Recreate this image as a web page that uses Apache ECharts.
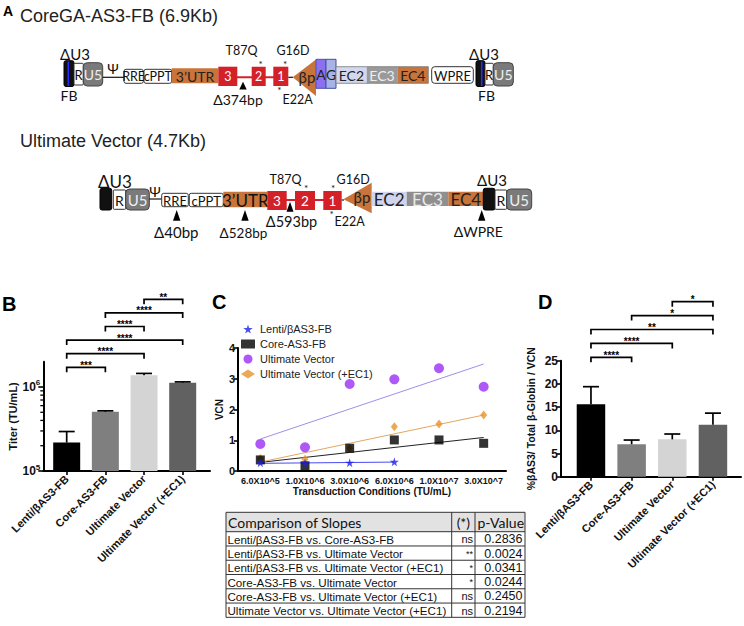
<!DOCTYPE html>
<html><head><meta charset="utf-8">
<script src="https://cdn.jsdelivr.net/npm/echarts@6/dist/echarts.min.js"></script>
<style>html,body{margin:0;padding:0;background:#fff}#c{width:744px;height:626px}</style>
</head><body><div id="c"></div>
<script>
// ================= DATA =================
// Panel B: titer
const barCategories = ['Lenti/βAS3-FB', 'Core-AS3-FB', 'Ultimate Vector', 'Ultimate Vector (+EC1)'];
const titerMeans = [218000, 507000, 1380000, 1125000];
const titerErrors = [77000, 13000, 70000, 25000];
const titerBrackets = [[0, 1, '***'], [0, 2, '****'], [0, 3, '****'], [1, 2, '****'], [1, 3, '****'], [2, 3, '**']];
const titerMinorTicks = [200000, 300000, 400000, 500000, 600000, 700000, 800000, 900000];
const titerMajorTicks = [100000, 1000000];

// Panel C: VCN vs transduction conditions
const vcnConditions = ['6.0X10^5', '1.0X10^6', '3.0X10^6', '6.0X10^6', '1.0X10^7', '3.0X10^7'];
const vcnSeriesNames = ['Lenti/βAS3-FB', 'Core-AS3-FB', 'Ultimate Vector', 'Ultimate Vector (+EC1)'];
const vcnLenti = [0.27, 0.26, 0.27, 0.30];
const vcnCore = [0.36, 0.17, 0.74, 1.01, 1.01, 0.90];
const vcnUltimate = [0.88, 0.77, 2.83, 2.98, 3.34, 2.74];
const vcnUltimateEC1 = [0.41, 0.38, 0.74, 1.44, 1.53, 1.82];
const fitLenti = [[0, 0.25], [3, 0.29]];
const fitCore = [[0, 0.28], [5, 1.09]];
const fitUltimate = [[0, 1.04], [5, 3.48]];
const fitUltimateEC1 = [[0, 0.29], [5, 1.82]];

// Table: comparison of slopes
const slopeComparisons = [
  'Lenti/βAS3-FB vs. Core-AS3-FB',
  'Lenti/βAS3-FB vs. Ultimate Vector',
  'Lenti/βAS3-FB vs. Ultimate Vector (+EC1)',
  'Core-AS3-FB vs. Ultimate Vector',
  'Core-AS3-FB vs. Ultimate Vector (+EC1)',
  'Ultimate Vector vs. Ultimate Vector (+EC1)'
];
const slopeSignificance = ['ns', '**', '*', '*', 'ns', 'ns'];
const slopePValues = ['0.2836', '0.0024', '0.0341', '0.0244', '0.2450', '0.2194'];
const tableHeaders = ['Comparison of Slopes', '(*)', 'p-Value'];

// Panel D: %βAS3 / total β-globin / VCN
const globinMeans = [15.6, 7.0, 8.05, 11.2];
const globinErrors = [3.8, 0.9, 1.15, 2.5];
const globinBrackets = [[0, 1, '****'], [0, 2, '****'], [0, 3, '**'], [1, 3, '*'], [2, 3, '*']];

// ================= STYLE =================
const FONT = '"Liberation Sans", Arial, sans-serif';
const DFONT = 'Lato, "Open Sans", sans-serif';
const barColors = ['#000000', '#7f7f7f', '#d4d4d4', '#616161'];

// ================= GRAPHICS (diagram, table, panel letters) =================
const G = [];
function R(x1, y1, x2, y2, fill, stroke, r, lw) {
  G.push({ type: 'rect', silent: true, shape: { x: x1, y: y1, width: x2 - x1, height: y2 - y1, r: r || 0 },
    style: { fill: fill || 'none', stroke: stroke || 'none', lineWidth: lw || 1 } });
}
function L(x1, y1, x2, y2, stroke, lw) {
  G.push({ type: 'line', silent: true, shape: { x1, y1, x2, y2 }, style: { stroke, lineWidth: lw || 1 } });
}
function P(points, fill) {
  G.push({ type: 'polygon', silent: true, shape: { points }, style: { fill } });
}
function T(x, y, text, size, color, opt) {
  opt = opt || {};
  const st = { text, fill: color || '#222', fontSize: size,
    fontFamily: opt.family || DFONT, fontWeight: opt.weight || 'normal',
    align: opt.align || 'center', verticalAlign: opt.va || 'middle' };
  if (opt.lh) st.lineHeight = opt.lh;
  G.push({ type: 'text', silent: true, x, y, style: st });
}
// asterisk: glyph sits high in the em box, so the anchor is shifted down
function STAR(x, yc) { T(x, yc + 2.2, '*', 10, '#111'); }
function BX(x1, y1, x2, y2, fill, stroke, r, text, size, color) {
  R(x1, y1, x2, y2, fill, stroke, r, 1);
  if (text) T((x1 + x2) / 2, (y1 + y2) / 2 + 0.5, text, size, color);
}
const ORANGE = '#c8743a', RED = '#d42027';

// Panel A titles
T(3, 11, 'A', 14, '#000', { family: FONT, weight: 'bold', align: 'left' });
T(20, 16, 'CoreGA-AS3-FB (6.9Kb)', 18, '#222', { family: FONT, align: 'left' });
T(20, 141, 'Ultimate Vector (4.7Kb)', 18, '#222', { family: FONT, align: 'left' });

// ---- Top vector ----
T(75, 53.5, 'ΔU3', 15, '#111');
R(64, 60.7, 74, 86.5, '#111', '#000', 2);
L(68.3, 61.5, 68.3, 86, '#2a2aff', 1.6);
BX(74, 63.3, 83.3, 85, '#fff', '#333', 1, 'R', 13, '#111');
BX(83.3, 62.7, 102.7, 86, '#7a7a7a', '#444', 4, 'U5', 14, '#eee');
L(102.7, 77.3, 124, 77.3, '#111', 1.2);
T(113, 68, 'Ψ', 14, '#111');
BX(124, 69.3, 143.3, 83.3, '#fff', '#333', 2, 'RRE', 12.5, '#111');
BX(144, 69.3, 171.7, 83.3, '#fff', '#333', 2, 'cPPT', 12.5, '#111');
BX(171.7, 68.3, 218.3, 83.3, ORANGE, null, 0, '3’UTR', 14, '#222');
L(237, 77.3, 274, 77.3, RED, 2);
BX(218.3, 66.7, 237.3, 86, RED, null, 0, '3', 12.5, '#fff');
BX(251.7, 66.7, 265.7, 86, RED, null, 0, '2', 12.5, '#fff');
BX(273.3, 66.7, 288.3, 86, RED, null, 0, '1', 12.5, '#fff');
L(288.3, 77.3, 293, 77.3, '#111', 1.2);
P([[243, 81.7], [239.3, 89.5], [246.7, 89.5]], '#000');
T(238, 99, 'Δ374bp', 14, '#111');
T(241.5, 50.5, 'T87Q', 12.5, '#111');
STAR(260.5, 62);
T(293, 50.5, 'G16D', 12.5, '#111');
STAR(285, 62);
STAR(279.3, 88);
T(282.5, 99.5, 'E22A', 12.5, '#111', { align: 'left' });
P([[292.7, 77.3], [316, 59.5], [316, 96]], ORANGE);
T(307, 77, 'βp', 15, '#222');
BX(316, 59.3, 326, 88.3, '#8d70f0', '#5050b0', 0, 'A', 14, '#222');
BX(326, 59.3, 336, 88.3, '#a9b2e6', '#4050a0', 0, 'G', 14, '#222');
BX(336, 66.7, 366.7, 83.3, '#d3d8f1', null, 0, 'EC2', 14, '#222');
BX(366.7, 66.7, 397.3, 83.3, '#9a9a9a', null, 0, 'EC3', 14, '#eee');
BX(397.3, 66.7, 428.3, 83.3, ORANGE, null, 0, 'EC4', 14, '#222');
R(336, 66.7, 428.3, 83.3, null, '#777', 0, 0.8);
BX(431.7, 66.7, 473.3, 83.3, '#fff', '#333', 3, 'WPRE', 13, '#111');
R(476, 60.7, 485, 86.5, '#111', '#000', 2);
L(481.7, 61.5, 481.7, 86, '#2a2aff', 1.6);
BX(485, 63.3, 493.3, 85, '#fff', '#333', 1, 'R', 13, '#111');
BX(493.3, 62.7, 513.3, 86, '#7a7a7a', '#444', 4, 'U5', 14, '#eee');
T(484, 53.5, 'ΔU3', 15, '#111');
T(69, 95, 'FB', 14, '#111');
T(486.5, 95, 'FB', 14, '#111');

// ---- Bottom vector ----
T(115, 181, 'ΔU3', 17, '#111');
R(100, 188.3, 111.7, 210, '#111', '#000', 2);
BX(113.3, 190, 125.7, 209.3, '#fff', '#333', 1, 'R', 14, '#111');
BX(125.7, 189, 149.3, 210, '#7a7a7a', '#444', 4, 'U5', 15, '#eee');
L(149.3, 199, 161.7, 199, '#111', 1.2);
T(155, 191, 'Ψ', 14, '#111');
BX(161.7, 193.3, 188.3, 206.7, '#fff', '#333', 2, 'RRE', 13, '#111');
BX(189.3, 193.3, 223.3, 206.7, '#fff', '#333', 2, 'cPPT', 13, '#111');
BX(223.3, 191.7, 267.3, 207.3, ORANGE, null, 0, '3’UTR', 17, '#111');
L(286, 200, 324, 200, RED, 2);
BX(267.3, 191, 286.7, 210, RED, null, 0, '3', 13.5, '#fff');
BX(295, 191, 315, 210, RED, null, 0, '2', 13.5, '#fff');
BX(323.3, 191, 341.7, 210, RED, null, 0, '1', 13.5, '#fff');
L(341.7, 200, 344, 200, '#111', 1.2);
P([[290, 201.7], [286.5, 211.7], [293.5, 211.7]], '#000');
T(291.5, 221.5, 'Δ593bp', 14.5, '#111');
T(285.5, 179, 'T87Q', 12.5, '#111');
STAR(306, 185.5);
STAR(333, 185.5);
T(336.5, 179, 'G16D', 12.5, '#111', { align: 'left' });
STAR(331.7, 212);
T(334.5, 221.5, 'E22A', 12.5, '#111', { align: 'left' });
P([[343.3, 199.3], [371.7, 182.7], [371.7, 213.3]], ORANGE);
T(362, 197, 'βp', 15, '#222');
BX(371.7, 191.7, 406.7, 206, '#cfd5ef', null, 0, 'EC2', 17, '#222');
BX(406.7, 191.7, 448.3, 206, '#8f8f8f', null, 0, 'EC3', 17, '#e8e8e8');
BX(448.3, 191.7, 483.3, 206, ORANGE, null, 0, 'EC4', 17, '#222');
R(483.3, 188.3, 495, 210, '#111', '#000', 2);
BX(495, 190, 506.7, 209.3, '#fff', '#333', 1, 'R', 14, '#111');
BX(506.7, 189, 531.7, 210, '#7a7a7a', '#444', 4, 'U5', 15, '#eee');
T(492, 180, 'ΔU3', 15, '#111');
P([[176.7, 210], [173, 220.7], [180.4, 220.7]], '#000');
P([[245, 210], [241.3, 220.7], [248.7, 220.7]], '#000');
P([[481.7, 210], [478, 220.7], [485.4, 220.7]], '#000');
T(176.3, 231.7, 'Δ40bp', 15, '#111');
T(243.5, 233, 'Δ528bp', 13.5, '#111');
T(478.3, 231.7, 'ΔWPRE', 14, '#111');

// Panel letters
T(2, 304, 'B', 20, '#000', { family: FONT, weight: 'bold', align: 'left' });
T(212, 302, 'C', 20, '#000', { family: FONT, weight: 'bold', align: 'left' });
T(538, 302, 'D', 20, '#000', { family: FONT, weight: 'bold', align: 'left' });

// ---- Table ----
(function () {
  const x0 = 226, x1 = 451.7, x2 = 475, x3 = 525, y0 = 512.3, yH = 531.7, rowH = 14.27;
  const yEnd = yH + rowH * slopeComparisons.length;
  R(x0, y0, x3, yH, '#e2e2e2');
  const hm = (y0 + yH) / 2;
  T(x0 + 2, hm, tableHeaders[0], 14, '#111', { align: 'left' });
  T((x1 + x2) / 2, hm, tableHeaders[1], 14, '#111');
  T(x2 + 2.5, hm, tableHeaders[2], 14, '#111', { align: 'left' });
  slopeComparisons.forEach((c, i) => {
    const ym = yH + rowH * (i + 0.5) + 0.5;
    T(x0 + 1.5, ym, c, 11.6, '#111', { family: FONT, align: 'left' });
    T(x2 - 2, ym, slopeSignificance[i], slopeSignificance[i] === 'ns' ? 11 : 9, '#111', { family: FONT, align: 'right' });
    T(x3 - 2.5, ym, slopePValues[i], 12.5, '#111', { family: FONT, align: 'right' });
  });
  for (let i = 0; i <= slopeComparisons.length; i++) {
    const y = yH + rowH * i;
    L(x0, y, x3, y, '#333', 1);
  }
  L(x0, y0, x3, y0, '#333', 1);
  [x0, x1, x2, x3].forEach(x => L(x, y0, x, yEnd, '#333', 1));
})();

// ================= RENDER HELPERS =================
function errorRender(capHalf) {
  return function (params, api) {
    const x = api.value(0), v = api.value(1), e = api.value(2);
    const p0 = api.coord([x, v]);
    const p1 = api.coord([x, v + e]);
    return { type: 'group', children: [
      { type: 'line', shape: { x1: p0[0], y1: p0[1], x2: p1[0], y2: p1[1] }, style: { stroke: '#000', lineWidth: 1.7 } },
      { type: 'line', shape: { x1: p1[0] - capHalf, y1: p1[1], x2: p1[0] + capHalf, y2: p1[1] }, style: { stroke: '#000', lineWidth: 1.7 } }
    ] };
  };
}
function bracketRender(list, refValue, firstOffset, step) {
  return function (params, api) {
    const i = api.value(0), j = api.value(1);
    const lvl = params.dataIndex;
    const a = api.coord([i, refValue]), b = api.coord([j, refValue]);
    const y = a[1] + firstOffset - lvl * step;
    const label = list[params.dataIndex][2];
    return { type: 'group', children: [
      { type: 'polyline', shape: { points: [[a[0], y + 5], [a[0], y], [b[0], y], [b[0], y + 5]] },
        style: { stroke: '#000', lineWidth: 1.7, fill: 'none' } },
      { type: 'text', x: (a[0] + b[0]) / 2, y: y - 2,
        style: { text: label, fill: '#000', fontSize: 10, fontWeight: 'bold', fontFamily: FONT,
          align: 'center', verticalAlign: 'middle', lineHeight: 4 } }
    ] };
  };
}

const axisLineStyle = { show: true, onZero: false, lineStyle: { color: '#000', width: 2 } };
const tickStyle = { show: true, length: 4, lineStyle: { color: '#000', width: 1.6 } };
const catLabel = { show: true, rotate: 45, margin: 6, fontSize: 11, fontWeight: 'bold', fontFamily: FONT, color: '#111',
  customValues: [0, 1, 2, 3], formatter: v => barCategories[Math.round(v)] };

const starPath = 'path://M50,0 L61,35 L98,35 L68,57 L79,91 L50,70 L21,91 L32,57 L2,35 L39,35 Z';

const option = {
  animation: false,
  backgroundColor: '#fff',
  textStyle: { fontFamily: FONT },
  graphic: G,
  grid: [
    { left: 43.3, top: 361.7, width: 166.7, height: 109.3 },
    { left: 238, top: 348, width: 268, height: 123 },
    { left: 561, top: 360.7, width: 180, height: 116 }
  ],
  legend: {
    show: true, orient: 'vertical', left: 236, top: 318.5, itemWidth: 14, itemHeight: 9, itemGap: 4,
    data: vcnSeriesNames,
    textStyle: { fontSize: 11, color: '#222', fontFamily: FONT }
  },
  xAxis: [
    { gridIndex: 0, type: 'value', min: -0.605, max: 3.706, splitLine: { show: false },
      axisLine: axisLineStyle, axisTick: Object.assign({ customValues: [0, 1, 2, 3] }, tickStyle), axisLabel: catLabel },
    { gridIndex: 1, type: 'category', data: vcnConditions, boundaryGap: true,
      axisLine: axisLineStyle, axisTick: { show: false },
      axisLabel: { interval: 0, margin: 5, fontSize: 9, fontWeight: 'bold', color: '#111', fontFamily: FONT },
      name: 'Transduction Conditions (TU/mL)', nameLocation: 'middle', nameGap: 15,
      nameTextStyle: { fontSize: 10, fontWeight: 'bold', color: '#111', fontFamily: FONT } },
    { gridIndex: 2, type: 'value', min: -0.737, max: 3.69, splitLine: { show: false },
      axisLine: axisLineStyle, axisTick: Object.assign({ customValues: [0, 1, 2, 3] }, tickStyle), axisLabel: catLabel }
  ],
  yAxis: [
    { gridIndex: 0, type: 'log', logBase: 10, min: 100000, max: 2000000, startValue: 100000,
      splitLine: { show: false }, axisLine: axisLineStyle,
      axisTick: Object.assign({ customValues: titerMajorTicks }, tickStyle, { length: 5 }),
      axisLabel: { customValues: titerMajorTicks, margin: 3,
        formatter: v => '{b|10}{s|' + Math.round(Math.log10(v)) + '}',
        rich: { b: { fontSize: 12, fontWeight: 'bold', color: '#111', fontFamily: FONT },
                s: { fontSize: 8, fontWeight: 'bold', color: '#111', fontFamily: FONT, padding: [0, 0, 8, 0] } } },
      name: 'Titer (TU/mL)', nameLocation: 'middle', nameGap: 22,
      nameTextStyle: { fontSize: 11, fontWeight: 'bold', color: '#111', fontFamily: FONT } },
    { gridIndex: 1, type: 'value', min: 0, max: 4, interval: 1, splitLine: { show: false },
      axisLine: axisLineStyle, axisTick: tickStyle,
      axisLabel: { fontSize: 11, fontWeight: 'bold', color: '#111', fontFamily: FONT, margin: 3 },
      name: 'VCN', nameLocation: 'middle', nameGap: 14,
      nameTextStyle: { fontSize: 10, fontWeight: 'bold', color: '#111', fontFamily: FONT } },
    { gridIndex: 2, type: 'value', min: 0, max: 25, interval: 5, splitLine: { show: false },
      axisLine: axisLineStyle, axisTick: tickStyle,
      axisLabel: { fontSize: 12, fontWeight: 'bold', color: '#111', fontFamily: FONT, margin: 3 },
      name: '%βAS3/ Total β-Globin / VCN', nameLocation: 'middle', nameGap: 25,
      nameTextStyle: { fontSize: 10.5, fontWeight: 'bold', color: '#111', fontFamily: FONT } }
  ],
  series: [
    // Panel B
    { type: 'bar', xAxisIndex: 0, yAxisIndex: 0, barWidth: 27, z: 2,
      data: titerMeans.map((v, i) => ({ value: [i, v], itemStyle: { color: barColors[i] } })) },
    { type: 'custom', xAxisIndex: 0, yAxisIndex: 0, z: 3, itemStyle: { color: '#000' }, renderItem: errorRender(8),
      data: titerMeans.map((v, i) => [i, v, titerErrors[i]]) },
    { type: 'custom', xAxisIndex: 0, yAxisIndex: 0, z: 3, itemStyle: { color: '#000' },
      renderItem: bracketRender(titerBrackets, 2000000, 5.6, 13.6),
      data: titerBrackets.map(b => [b[0], b[1]]) },
    { type: 'custom', xAxisIndex: 0, yAxisIndex: 0, z: 3, itemStyle: { color: '#000' },
      renderItem: function (params, api) {
        const p = api.coord([0, api.value(1)]);
        const x = params.coordSys.x;
        return { type: 'line', shape: { x1: x - 3, y1: p[1], x2: x, y2: p[1] }, style: { stroke: '#000', lineWidth: 1.3 } };
      },
      data: titerMinorTicks.map(v => [0, v]) },

    // Panel C fit lines
    { name: 'fitLenti', type: 'line', xAxisIndex: 1, yAxisIndex: 1, data: fitLenti, symbol: 'none', z: 2,
      lineStyle: { color: '#4a4af0', width: 1 } },
    { name: 'fitCore', type: 'line', xAxisIndex: 1, yAxisIndex: 1, data: fitCore, symbol: 'none', z: 2,
      lineStyle: { color: '#222', width: 1 } },
    { name: 'fitUltimate', type: 'line', xAxisIndex: 1, yAxisIndex: 1, data: fitUltimate, symbol: 'none', z: 2,
      lineStyle: { color: '#a58de8', width: 1 } },
    { name: 'fitUltimateEC1', type: 'line', xAxisIndex: 1, yAxisIndex: 1, data: fitUltimateEC1, symbol: 'none', z: 2,
      lineStyle: { color: '#e2a862', width: 1 } },
    // Panel C points
    { name: vcnSeriesNames[0], type: 'scatter', xAxisIndex: 1, yAxisIndex: 1, data: vcnLenti, z: 6,
      symbol: starPath, symbolSize: 9, itemStyle: { color: '#1f1fe6' } },
    { name: vcnSeriesNames[1], type: 'scatter', xAxisIndex: 1, yAxisIndex: 1, data: vcnCore, z: 5,
      symbol: 'rect', symbolSize: 9, itemStyle: { color: '#000' } },
    { name: vcnSeriesNames[2], type: 'scatter', xAxisIndex: 1, yAxisIndex: 1, data: vcnUltimate, z: 5,
      symbol: 'circle', symbolSize: 10, itemStyle: { color: '#9a2ef5' } },
    { name: vcnSeriesNames[3], type: 'scatter', xAxisIndex: 1, yAxisIndex: 1, data: vcnUltimateEC1, z: 4,
      symbol: 'diamond', symbolSize: [7, 9], itemStyle: { color: '#e8922a' } },

    // Panel D
    { type: 'bar', xAxisIndex: 2, yAxisIndex: 2, barWidth: 28.5, z: 2,
      data: globinMeans.map((v, i) => ({ value: [i, v], itemStyle: { color: barColors[i] } })) },
    { type: 'custom', xAxisIndex: 2, yAxisIndex: 2, z: 3, itemStyle: { color: '#000' }, renderItem: errorRender(8),
      data: globinMeans.map((v, i) => [i, v, globinErrors[i]]) },
    { type: 'custom', xAxisIndex: 2, yAxisIndex: 2, z: 3, itemStyle: { color: '#000' },
      renderItem: bracketRender(globinBrackets, 25, -3.4, 13.9),
      data: globinBrackets.map(b => [b[0], b[1]]) }
  ]
};

const chart = echarts.init(document.getElementById('c'), null, { renderer: 'svg' });
chart.setOption(option);
</script>
</body></html>
